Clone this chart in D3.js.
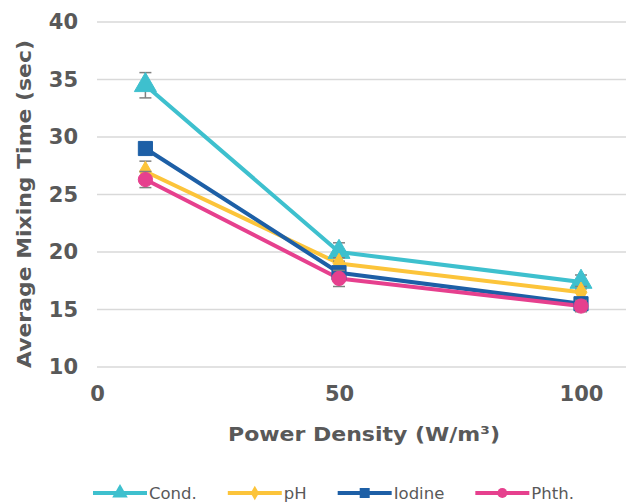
<!DOCTYPE html>
<html><head><meta charset="utf-8">
<script src="https://cdn.jsdelivr.net/npm/d3@7"></script>
<style>body{margin:0;background:#fff}svg{display:block}text{font-family:"DejaVu Sans",Verdana,sans-serif;fill:#595959}</style>
</head><body><svg id="c" width="626" height="502"></svg>
<script>
const powerDensity = [10, 50, 100];
const seriesNames = ["Cond.", "pH", "Iodine", "Phth."];
const condValues = [34.5, 20.0, 17.4];
const pHValues = [27.0, 19.0, 16.5];
const iodineValues = [29.0, 18.2, 15.5];
const phthValues = [26.3, 17.7, 15.3];
const condErr = [1.1, 0.8, 0.6];
const pHErr = [0.9, 0.5, 0.5];
const iodineErr = [0.2, 0.3, 0.3];
const phthErr = [0.7, 0.7, 0.5];
const yTicks = [10, 15, 20, 25, 30, 35, 40];
const xTicks = [0, 50, 100];
const colors = ["#3EC0CE", "#FCC43A", "#1D5FA6", "#E6408E"];
const shapes = [d3.symbolTriangle, d3.symbolDiamond, d3.symbolSquare, d3.symbolCircle];
const values = [condValues, pHValues, iodineValues, phthValues];
const errs = [condErr, pHErr, iodineErr, phthErr];

const svg = d3.select("#c");
const x = d3.scaleLinear().domain([0, 100]).range([97, 581]);
const y = d3.scaleLinear().domain([10, 40]).range([367, 22]);

// gridlines
svg.append("g").selectAll("line").data(yTicks).join("line")
  .attr("x1", 97).attr("x2", 626).attr("y1", d => y(d)).attr("y2", d => y(d))
  .attr("stroke", "#d9d9d9").attr("stroke-width", 1.5);

// y axis
const ya = svg.append("g").attr("transform", "translate(78,0)")
  .call(d3.axisLeft(y).tickValues(yTicks).tickSize(0).tickPadding(0));
ya.select(".domain").remove();
ya.selectAll("text").attr("font-size", 21).attr("font-weight", "bold")
  .attr("font-family", '"DejaVu Sans",Verdana,sans-serif').attr("fill", "#595959");

// x axis
const xa = svg.append("g").attr("transform", "translate(0,386)")
  .call(d3.axisBottom(x).tickValues(xTicks).tickSize(0).tickPadding(0));
xa.select(".domain").remove();
xa.selectAll("text").attr("font-size", 21).attr("font-weight", "bold")
  .attr("font-family", '"DejaVu Sans",Verdana,sans-serif').attr("fill", "#595959");

// titles
svg.append("text").attr("x", 364).attr("y", 441).attr("text-anchor", "middle")
  .attr("font-size", 20).attr("font-weight", "bold")
  .attr("textLength", 272).attr("lengthAdjust", "spacingAndGlyphs").text("Power Density (W/m³)");
svg.append("text").attr("transform", "translate(31,204) rotate(-90)").attr("text-anchor", "middle")
  .attr("font-size", 20).attr("font-weight", "bold")
  .attr("textLength", 328).attr("lengthAdjust", "spacingAndGlyphs").text("Average Mixing Time (sec)");

const line = d3.line().x((d, i) => x(powerDensity[i])).y(d => y(d));
const sizes = [210, 120, 200, 160];

values.forEach((vals, s) => {
  svg.append("path").datum(vals).attr("d", line).attr("fill", "none")
    .attr("stroke", colors[s]).attr("stroke-width", 4).attr("stroke-linejoin", "round");
});
values.forEach((vals, s) => {
  const g = svg.append("g");
  vals.forEach((v, i) => {
    const cx = x(powerDensity[i]);
    const e = errs[s][i];
    g.append("line").attr("x1", cx).attr("x2", cx).attr("y1", y(v - e)).attr("y2", y(v + e))
      .attr("stroke", "#808080").attr("stroke-width", 1.5);
    [v - e, v + e].forEach(t => g.append("line").attr("x1", cx - 6).attr("x2", cx + 6)
      .attr("y1", y(t)).attr("y2", y(t)).attr("stroke", "#808080").attr("stroke-width", 1.5));
  });
  g.selectAll("path").data(vals).join("path")
    .attr("transform", (d, i) => `translate(${x(powerDensity[i])},${y(d)})`)
    .attr("d", d3.symbol().type(shapes[s]).size(sizes[s]))
    .attr("fill", colors[s]).attr("stroke", colors[s]).attr("stroke-width", 1)
    .attr("stroke-linejoin", "round");
});

// legend
let lx = 93;
const ly = 493;
seriesNames.forEach((name, s) => {
  const g = svg.append("g");
  g.append("line").attr("x1", lx).attr("x2", lx + 54).attr("y1", ly).attr("y2", ly)
    .attr("stroke", colors[s]).attr("stroke-width", 4);
  g.append("path").attr("transform", `translate(${lx + 27},${ly})`)
    .attr("d", d3.symbol().type(shapes[s]).size(sizes[s] * 0.5)).attr("fill", colors[s]);
  const t = g.append("text").attr("x", lx + 56).attr("y", ly + 6).attr("font-size", 16.5).text(name);
  lx += 56 + t.node().getComputedTextLength() + 31;
});
</script></body></html>
